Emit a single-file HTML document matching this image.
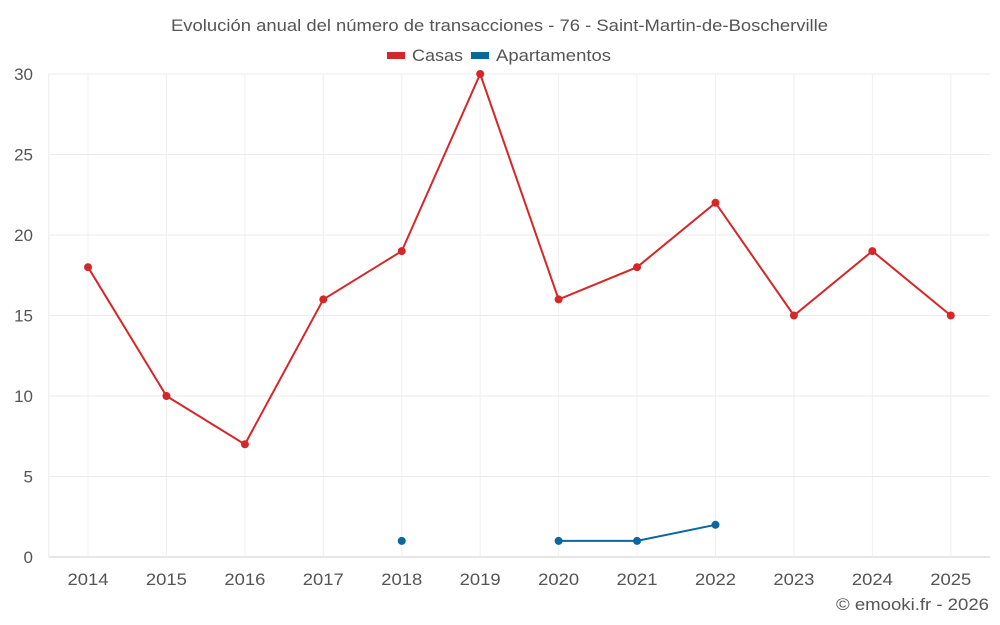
<!DOCTYPE html>
<html><head><meta charset="utf-8"><style>
body{margin:0;background:#fff;}
svg{display:block;font-family:"Liberation Sans",sans-serif;}
</style></head><body>
<svg id="chart" width="1000" height="625">
<text x="171" y="31" textLength="657" lengthAdjust="spacingAndGlyphs" font-size="17" fill="#555">Evolución anual del número de transacciones - 76 - Saint-Martin-de-Boscherville</text>
<g><rect x="387" y="52" width="18" height="7" fill="#d62728"/><text x="412" y="61" textLength="51" lengthAdjust="spacingAndGlyphs" font-size="17" fill="#555">Casas</text></g>
<g><rect x="471" y="52" width="18" height="7" fill="#0a67a0"/><text x="496" y="61" textLength="115" lengthAdjust="spacingAndGlyphs" font-size="17" fill="#555">Apartamentos</text></g>
<g id="grid"></g><g id="axes"></g><g id="series"></g>
<text x="836" y="610" textLength="153" lengthAdjust="spacingAndGlyphs" font-size="17" fill="#555">© emooki.fr - 2026</text>
</svg>
<script>
const categories=["2014","2015","2016","2017","2018","2019","2020","2021","2022","2023","2024","2025"];
const casas=[18,10,7,16,19,30,16,18,22,15,19,15];
const apartamentos=[null,null,null,null,1,null,1,1,2,null,null,null];
const yTicks=[0,5,10,15,20,25,30];
const L=48.8,R=990,T=74,B=557,yMax=30;
const step=(R-L)/categories.length;
const x=i=>L+step*(i+0.5);
const y=v=>B-(v/yMax)*(B-T);
const NS="http://www.w3.org/2000/svg";
function mk(p,tag,a){const e=document.createElementNS(NS,tag);for(const k in a)e.setAttribute(k,a[k]);p.appendChild(e);return e;}
const g=document.getElementById('grid'),ax=document.getElementById('axes'),s=document.getElementById('series');
yTicks.forEach(t=>{
 const l=mk(g,'line',{x1:L,x2:R,y1:y(t),y2:y(t),stroke:t===0?'#ccc':'#ebebeb','stroke-width':1});
 
 
 const tx=mk(ax,'text',{x:33,y:y(t)+6,'text-anchor':'end','font-size':17,fill:'#555'});tx.textContent=t;
 
 
});
categories.forEach((c,i)=>{
 const l=mk(g,'line',{x1:x(i),x2:x(i),y1:T,y2:B,stroke:'#f0f0f0','stroke-width':1});
 
 
 const tx=mk(ax,'text',{x:x(i),y:585,'text-anchor':'middle','font-size':17,textLength:41,lengthAdjust:'spacingAndGlyphs',fill:'#555'});tx.textContent=c;
 
 
});
mk(g,'line',{x1:L,x2:L,y1:T,y2:B,stroke:'#ebebeb'});
function draw(vals,color,name){
 let seg=[];const segs=[];
 vals.forEach((v,i)=>{if(v==null){if(seg.length)segs.push(seg);seg=[];}else seg.push([x(i),y(v)]);});
 if(seg.length)segs.push(seg);
 segs.forEach(sg=>{if(sg.length>1){const p=mk(s,'polyline',{points:sg.map(q=>q.join(',')).join(' '),fill:'none',stroke:color,'stroke-width':2});
 
 }});
 vals.forEach((v,i)=>{if(v==null)return;const c=mk(s,'circle',{cx:x(i),cy:y(v),r:4,fill:color});
 
 });
}
draw(casas,'#d62728','casas');
draw(apartamentos,'#0a67a0','apartamentos');
</script>
</body></html>
